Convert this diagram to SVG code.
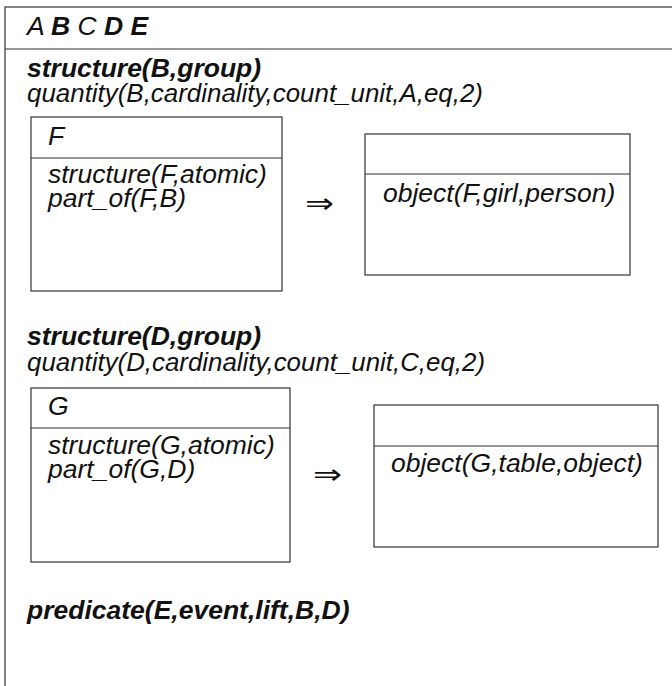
<svg xmlns="http://www.w3.org/2000/svg" width="672" height="686" viewBox="0 0 672 686">
<style>
text{font-family:"Liberation Sans",Arial,sans-serif;font-size:26.5px;font-style:italic;fill:#111}
.b{font-weight:bold}
.box{fill:none;stroke:#333;stroke-width:1.2}
.arr{font-family:"DejaVu Sans",sans-serif;font-style:normal;font-size:28px}
</style>
<rect width="672" height="686" fill="#fff"/>
<g id="drs-main">
<rect class="box" x="5" y="7" width="720" height="720"/>
<line class="box" x1="5" y1="49" x2="672" y2="49"/>
<text x="27" y="35">A <tspan class="b">B</tspan> C <tspan class="b">D</tspan> <tspan class="b">E</tspan></text>
<text class="b" x="27" y="77">structure(B,group)</text>
<text x="27" y="102" textLength="456" lengthAdjust="spacingAndGlyphs">quantity(B,cardinality,count_unit,A,eq,2)</text>
<text class="b" x="27" y="345">structure(D,group)</text>
<text x="27" y="371" textLength="458" lengthAdjust="spacingAndGlyphs">quantity(D,cardinality,count_unit,C,eq,2)</text>
<text class="b" x="27" y="619">predicate(E,event,lift,B,D)</text>
</g>
<g id="box-F">
<rect class="box" x="31" y="117" width="251" height="174"/>
<line class="box" x1="31" y1="158" x2="282" y2="158"/>
<text x="48" y="145">F</text>
<text x="48" y="183">structure(F,atomic)</text>
<text x="48" y="207">part_of(F,B)</text>
</g>
<g id="box-F-cons">
<rect class="box" x="365" y="134" width="265" height="141"/>
<line class="box" x1="365" y1="174" x2="630" y2="174"/>
<text x="383" y="202">object(F,girl,person)</text>
</g>
<g id="box-G">
<rect class="box" x="31" y="388" width="259" height="174"/>
<line class="box" x1="31" y1="428" x2="290" y2="428"/>
<text x="48" y="415">G</text>
<text x="48" y="454">structure(G,atomic)</text>
<text x="48" y="478">part_of(G,D)</text>
</g>
<g id="box-G-cons">
<rect class="box" x="374" y="405" width="284" height="142"/>
<line class="box" x1="374" y1="446" x2="658" y2="446"/>
<text x="391" y="472">object(G,table,object)</text>
</g>
<g id="connectors">
<text class="arr" x="305" y="213" textLength="29" lengthAdjust="spacingAndGlyphs">⇒</text>
<text class="arr" x="313" y="484" textLength="29" lengthAdjust="spacingAndGlyphs">⇒</text>
</g>
</svg>
